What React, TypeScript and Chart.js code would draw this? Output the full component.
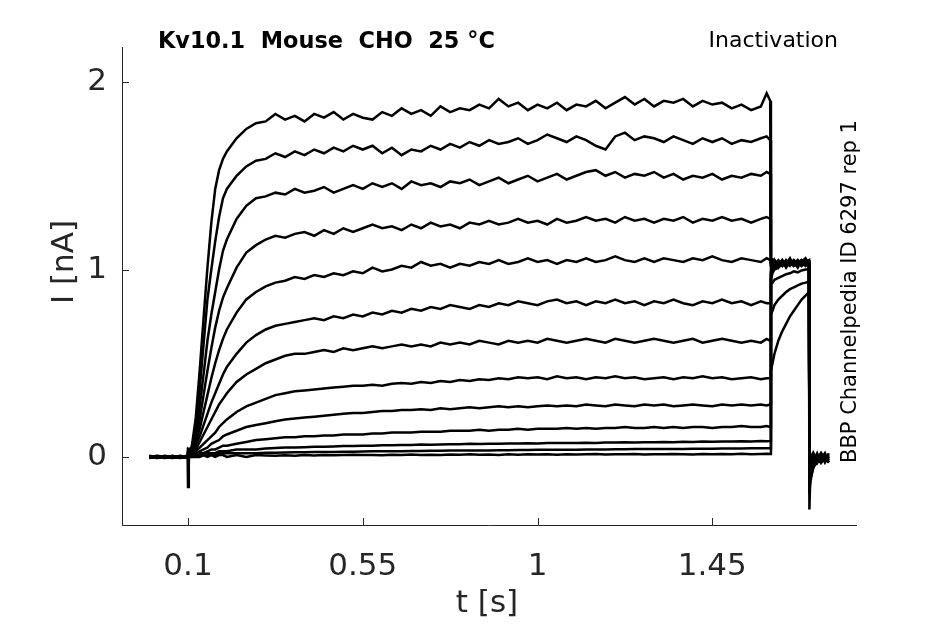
import { useEffect, useRef } from "react"
import { Chart, registerables } from "chart.js"

Chart.register(...registerables)

// time base (s), shared by every sweep
const time = [
  0, 0.02, 0.04, 0.06, 0.08, 0.099,
  0.1, 0.102, 0.11, 0.12, 0.13, 0.14, 0.15, 0.16, 0.17, 0.18, 0.19, 0.2, 0.225, 0.25, 0.275,
  0.3, 0.325, 0.35, 0.375, 0.4, 0.425, 0.45, 0.475, 0.5, 0.525,
  0.55, 0.575, 0.6, 0.625, 0.65, 0.675, 0.7, 0.725, 0.75, 0.775,
  0.8, 0.825, 0.85, 0.875, 0.9, 0.925, 0.95, 0.975, 1, 1.025,
  1.05, 1.075, 1.1, 1.125, 1.15, 1.175, 1.2, 1.225, 1.25, 1.275,
  1.3, 1.325, 1.35, 1.375, 1.4, 1.425, 1.45, 1.475, 1.5, 1.525,
  1.55, 1.575, 1.59, 1.599,
  1.601, 1.605, 1.61, 1.62, 1.63, 1.64, 1.65, 1.66, 1.67, 1.68, 1.69, 1.699,
  1.7, 1.702, 1.71, 1.72, 1.73, 1.74, 1.75,
]

// current sweeps (nA), largest first
const sweep1 = [
  0.004, -0.006, 0.003, -0.004, 0.005, 0.0,
  0.05, 0.02, 0.06, 0.21, 0.46, 0.74, 1.01, 1.25, 1.43, 1.53, 1.59, 1.63, 1.7, 1.75, 1.78,
  1.79, 1.83, 1.8, 1.82, 1.79, 1.83, 1.81, 1.84, 1.8, 1.83,
  1.81, 1.8, 1.84, 1.82, 1.86, 1.83, 1.85, 1.82, 1.87, 1.84,
  1.86, 1.85, 1.88, 1.86, 1.91, 1.87, 1.89, 1.85, 1.88, 1.86,
  1.89, 1.85, 1.88, 1.87, 1.9, 1.86, 1.89, 1.92, 1.88, 1.91,
  1.87, 1.9, 1.89, 1.91, 1.87, 1.9, 1.88, 1.89, 1.86, 1.88,
  1.85, 1.87, 1.94, 1.9,
  1.06, 1.02, 1.05, 1.01, 1.04, 1.03, 1.06, 1.02, 1.04, 1.05, 1.03, 1.04,
  -0.02, -0.01, 0.02, -0.03, 0.01, -0.02, 0.0,
]
const sweep2 = [
  -0.003, 0.005, -0.005, 0.004, -0.002, 0.003,
  0.03, 0.02, 0.05, 0.16, 0.36, 0.6, 0.84, 1.0, 1.15, 1.28, 1.38, 1.43, 1.5, 1.55, 1.58,
  1.59, 1.62, 1.6, 1.63, 1.61, 1.64, 1.62, 1.65, 1.63, 1.66,
  1.64, 1.66, 1.62, 1.65, 1.61, 1.64, 1.63, 1.66, 1.64, 1.67,
  1.65, 1.68, 1.66, 1.69, 1.67, 1.68, 1.7, 1.67, 1.69, 1.72,
  1.7, 1.68, 1.71, 1.69, 1.66, 1.64, 1.71, 1.73, 1.69, 1.71,
  1.7, 1.68, 1.71, 1.69, 1.67, 1.7, 1.68, 1.7, 1.67, 1.69,
  1.68, 1.7, 1.71, 1.69,
  1.04, 1.05, 1.01, 1.04, 1.02, 1.05, 1.03, 1.04, 1.01, 1.05, 1.04, 1.02,
  -0.03, 0.01, -0.02, 0.02, -0.03, 0.0, -0.01,
]
const sweep3 = [
  0.006, -0.002, 0.004, -0.006, 0.002, -0.003,
  0.02, 0.02, 0.04, 0.12, 0.27, 0.44, 0.62, 0.76, 0.88, 1.0, 1.1, 1.16, 1.27, 1.34, 1.38,
  1.39, 1.41, 1.4, 1.43, 1.41, 1.42, 1.44, 1.41, 1.43, 1.45,
  1.43, 1.46, 1.44, 1.46, 1.43, 1.47, 1.45, 1.46, 1.44, 1.47,
  1.46, 1.48, 1.45, 1.47, 1.49, 1.46, 1.48, 1.5, 1.47, 1.49,
  1.51, 1.48, 1.5, 1.52, 1.53, 1.5, 1.52, 1.49, 1.51, 1.5,
  1.52, 1.49, 1.51, 1.48, 1.5, 1.49, 1.51, 1.48, 1.5, 1.49,
  1.51, 1.5, 1.52, 1.51,
  1.05, 1.03, 1.04, 1.02, 1.05, 1.01, 1.04, 1.03, 1.05, 1.02, 1.04, 1.05,
  -0.01, -0.03, 0.01, -0.02, 0.02, -0.01, -0.02,
]
const sweep4 = [
  -0.005, 0.003, -0.001, 0.005, -0.004, 0.002,
  0.02, 0.01, 0.03, 0.1, 0.2, 0.33, 0.46, 0.58, 0.69, 0.78, 0.85, 0.9, 1.01, 1.09, 1.13,
  1.16, 1.18, 1.17, 1.19, 1.2, 1.18, 1.21, 1.19, 1.22, 1.2,
  1.22, 1.24, 1.22, 1.23, 1.21, 1.24, 1.22, 1.25, 1.23, 1.24,
  1.22, 1.25, 1.24, 1.26, 1.24, 1.25, 1.27, 1.25, 1.26, 1.24,
  1.27, 1.25, 1.26, 1.28, 1.26, 1.27, 1.25, 1.28, 1.26, 1.27,
  1.25, 1.27, 1.26, 1.28, 1.25, 1.27, 1.26, 1.28, 1.26, 1.27,
  1.25, 1.27, 1.28, 1.27,
  1.03, 1.04, 1.02, 1.05, 1.03, 1.04, 1.02, 1.05, 1.03, 1.04, 1.06, 1.03,
  -0.04, 0.0, -0.03, 0.01, -0.01, 0.02, -0.03,
]
const sweep5 = [
  0.002, -0.005, 0.006, -0.002, 0.003, -0.004,
  0.02, 0.01, 0.03, 0.08, 0.15, 0.24, 0.33, 0.42, 0.5, 0.57, 0.63, 0.68, 0.77, 0.84, 0.88,
  0.91, 0.93, 0.94, 0.96, 0.95, 0.97, 0.96, 0.98, 0.97, 0.99,
  0.98, 1.01, 0.99, 1.0, 1.02, 1.01, 1.04, 1.02, 1.03, 1.01,
  1.03, 1.02, 1.04, 1.03, 1.05, 1.03, 1.04, 1.06, 1.04, 1.05,
  1.03, 1.05, 1.04, 1.06, 1.04, 1.05, 1.07, 1.05, 1.04, 1.06,
  1.04, 1.06, 1.05, 1.04, 1.06, 1.05, 1.07, 1.05, 1.04, 1.06,
  1.05, 1.04, 1.06, 1.05,
  1.02, 1.03, 1.05, 1.03, 1.04, 1.02, 1.05, 1.04, 1.02, 1.04, 1.03, 1.04,
  -0.02, -0.04, 0.0, -0.02, 0.01, -0.03, 0.01,
]
const sweep6 = [
  -0.004, 0.002, -0.006, 0.003, 0.0, 0.005,
  0.01, 0.01, 0.02, 0.06, 0.11, 0.17, 0.23, 0.29, 0.34, 0.39, 0.44, 0.48, 0.55, 0.61, 0.65,
  0.68, 0.7, 0.71, 0.72, 0.73, 0.74, 0.73, 0.75, 0.74, 0.76,
  0.75, 0.77, 0.76, 0.78, 0.77, 0.79, 0.78, 0.8, 0.79, 0.81,
  0.8, 0.79, 0.81, 0.8, 0.82, 0.81, 0.83, 0.82, 0.81, 0.83,
  0.84, 0.82, 0.83, 0.81, 0.83, 0.82, 0.84, 0.82, 0.83, 0.81,
  0.83, 0.82, 0.84, 0.82, 0.81, 0.83, 0.82, 0.84, 0.82, 0.83,
  0.81, 0.83, 0.82, 0.82,
  1.0, 1.02, 1.03, 1.04, 1.02, 1.05, 1.03, 1.02, 1.04, 1.03, 1.05, 1.02,
  -0.05, -0.02, 0.01, -0.01, -0.03, 0.0, -0.02,
]
const sweep7 = [
  0.003, 0.0, -0.004, 0.006, -0.005, 0.001,
  0.01, 0.01, 0.02, 0.04, 0.08, 0.12, 0.16, 0.2, 0.24, 0.28, 0.31, 0.34, 0.4, 0.44, 0.47,
  0.5, 0.52, 0.54, 0.55, 0.55, 0.56, 0.57, 0.56, 0.58, 0.57,
  0.58, 0.59, 0.58, 0.59, 0.6, 0.59, 0.6, 0.59, 0.61, 0.6,
  0.61, 0.6, 0.62, 0.61, 0.6, 0.62, 0.61, 0.62, 0.61, 0.63,
  0.62, 0.61, 0.62, 0.63, 0.62, 0.61, 0.63, 0.62, 0.61, 0.62,
  0.63, 0.62, 0.61, 0.62, 0.63, 0.61, 0.62, 0.63, 0.62, 0.61,
  0.62, 0.61, 0.63, 0.62,
  0.99, 1.01, 1.02, 1.03, 1.05, 1.02, 1.04, 1.03, 1.05, 1.02, 1.03, 1.04,
  -0.03, 0.02, -0.02, 0.0, -0.02, 0.01, -0.01,
]
const sweep8 = [
  -0.002, 0.006, 0.001, -0.005, 0.004, -0.001,
  0.01, 0.01, 0.02, 0.03, 0.05, 0.07, 0.09, 0.11, 0.13, 0.16, 0.18, 0.2, 0.24, 0.27, 0.29,
  0.31, 0.33, 0.34, 0.35, 0.355, 0.36, 0.365, 0.37, 0.375, 0.38,
  0.38, 0.385, 0.38, 0.39, 0.395, 0.39, 0.4, 0.395, 0.405, 0.4,
  0.41, 0.405, 0.415, 0.41, 0.42, 0.415, 0.425, 0.42, 0.425, 0.415,
  0.43, 0.42, 0.425, 0.415, 0.425, 0.42, 0.43, 0.42, 0.425, 0.415,
  0.42, 0.425, 0.415, 0.425, 0.42, 0.43, 0.42, 0.425, 0.415, 0.42,
  0.425, 0.415, 0.42, 0.42,
  0.98, 1.0, 1.02, 1.04, 1.02, 1.03, 1.05, 1.02, 1.03, 1.04, 1.02, 1.03,
  -0.06, -0.01, -0.03, 0.01, 0.0, -0.02, 0.02,
]
const sweep9 = [
  0.005, -0.003, 0.002, 0.001, -0.006, 0.004,
  0.01, 0.01, 0.01, 0.02, 0.03, 0.04, 0.05, 0.07, 0.08, 0.09, 0.11, 0.12, 0.14, 0.16, 0.17,
  0.18, 0.19, 0.2, 0.205, 0.21, 0.215, 0.22, 0.225, 0.23, 0.235,
  0.235, 0.24, 0.245, 0.245, 0.25, 0.25, 0.255, 0.25, 0.26, 0.255,
  0.26, 0.265, 0.26, 0.265, 0.27, 0.265, 0.27, 0.265, 0.27, 0.275,
  0.27, 0.275, 0.27, 0.28, 0.275, 0.27, 0.28, 0.275, 0.27, 0.28,
  0.275, 0.28, 0.27, 0.275, 0.28, 0.275, 0.27, 0.28, 0.275, 0.28,
  0.275, 0.28, 0.275, 0.28,
  0.97, 0.99, 1.01, 1.02, 1.04, 1.02, 1.03, 1.05, 1.03, 1.02, 1.04, 1.03,
  -0.04, -0.03, 0.02, -0.03, 0.01, -0.01, -0.03,
]
const sweep10 = [
  -0.006, 0.001, 0.005, -0.003, 0.006, -0.002,
  0.01, 0.01, 0.01, 0.01, 0.02, 0.02, 0.03, 0.04, 0.04, 0.05, 0.06, 0.06, 0.07, 0.08, 0.09,
  0.095, 0.1, 0.105, 0.105, 0.11, 0.11, 0.115, 0.115, 0.12, 0.12,
  0.12, 0.125, 0.125, 0.13, 0.13, 0.13, 0.135, 0.135, 0.135, 0.14,
  0.14, 0.14, 0.145, 0.14, 0.145, 0.145, 0.15, 0.145, 0.15, 0.15,
  0.15, 0.155, 0.15, 0.155, 0.15, 0.155, 0.155, 0.16, 0.155, 0.155,
  0.16, 0.155, 0.16, 0.155, 0.16, 0.16, 0.155, 0.16, 0.16, 0.165,
  0.16, 0.16, 0.165, 0.16,
  0.95, 0.98, 1.0, 1.01, 1.03, 1.02, 1.04, 1.02, 1.03, 1.05, 1.02, 1.04,
  -0.08, -0.05, -0.01, 0.01, -0.02, 0.01, -0.01,
]
const sweep11 = [
  0.001, -0.004, -0.002, 0.004, 0.001, 0.006,
  0.01, 0.0, 0.01, 0.01, 0.01, 0.01, 0.02, 0.02, 0.02, 0.03, 0.03, 0.03, 0.04, 0.04, 0.04,
  0.045, 0.048, 0.05, 0.05, 0.052, 0.054, 0.055, 0.056, 0.058, 0.058,
  0.06, 0.06, 0.062, 0.062, 0.064, 0.064, 0.066, 0.065, 0.067, 0.068,
  0.068, 0.07, 0.069, 0.071, 0.07, 0.072, 0.072, 0.073, 0.072, 0.074,
  0.074, 0.075, 0.075, 0.076, 0.075, 0.077, 0.077, 0.078, 0.077, 0.079,
  0.079, 0.08, 0.079, 0.081, 0.08, 0.082, 0.081, 0.083, 0.082, 0.084,
  0.083, 0.085, 0.084, 0.085,
  0.92, 0.93, 0.945, 0.955, 0.965, 0.975, 0.98, 0.99, 0.985, 0.995, 1.0, 1.0,
  -0.12, -0.07, -0.03, -0.01, 0.02, -0.02, 0.0,
]
const sweep12 = [
  0.0, 0.004, -0.003, -0.001, -0.003, -0.005,
  0.0, 0.0, 0.0, 0.01, 0.01, 0.01, 0.01, 0.01, 0.01, 0.02, 0.02, 0.02, 0.02, 0.02, 0.02,
  0.022, 0.023, 0.024, 0.025, 0.025, 0.026, 0.027, 0.027, 0.028, 0.028,
  0.029, 0.03, 0.03, 0.031, 0.031, 0.032, 0.032, 0.033, 0.033, 0.034,
  0.034, 0.035, 0.035, 0.035, 0.036, 0.036, 0.037, 0.037, 0.038, 0.038,
  0.038, 0.039, 0.039, 0.04, 0.04, 0.04, 0.041, 0.041, 0.042, 0.042,
  0.042, 0.043, 0.043, 0.043, 0.044, 0.044, 0.044, 0.045, 0.045, 0.045,
  0.046, 0.046, 0.046, 0.046,
  0.76, 0.78, 0.81, 0.84, 0.86, 0.88, 0.895, 0.905, 0.915, 0.925, 0.93, 0.935,
  -0.2, -0.14, -0.05, -0.03, 0.0, -0.01, -0.02,
]
const sweep13 = [
  -0.001, -0.002, 0.003, 0.002, 0.002, 0.001,
  -0.16, 0.01, 0.0, 0.0, 0.0, 0.01, 0.0, 0.01, 0.0, 0.01, 0.01, 0.0, 0.01, 0.0, 0.01,
  0.008, 0.006, 0.009, 0.007, 0.01, 0.008, 0.011, 0.009, 0.01, 0.012,
  0.01, 0.011, 0.009, 0.012, 0.01, 0.013, 0.011, 0.012, 0.01, 0.013,
  0.012, 0.014, 0.012, 0.013, 0.011, 0.014, 0.012, 0.015, 0.013, 0.014,
  0.012, 0.015, 0.013, 0.014, 0.016, 0.013, 0.015, 0.014, 0.016, 0.013,
  0.015, 0.014, 0.016, 0.015, 0.013, 0.016, 0.014, 0.016, 0.015, 0.017,
  0.015, 0.016, 0.017, 0.016,
  0.46, 0.5, 0.55, 0.62, 0.67, 0.71, 0.75, 0.78, 0.81, 0.84, 0.86, 0.88,
  -0.28, -0.12, -0.06, -0.02, -0.03, 0.0, -0.02,
]

const sweeps = [
  sweep1, sweep2, sweep3, sweep4, sweep5, sweep6, sweep7,
  sweep8, sweep9, sweep10, sweep11, sweep12, sweep13,
]

const xTicks = [0.1, 0.55, 1, 1.45]
const yTicks = [0, 1, 2]

const ink = "#262626"
const family = "DejaVu Sans"

// inward tick marks and the free texts around the axes
const decorations = {
  id: "decorations",
  afterDraw(chart: any) {
    const { ctx, chartArea, scales } = chart
    ctx.save()
    ctx.strokeStyle = ink
    ctx.lineWidth = 1
    ctx.beginPath()
    for (const v of xTicks) {
      const px = Math.round(scales.x.getPixelForValue(v)) + 0.5
      ctx.moveTo(px, chartArea.bottom)
      ctx.lineTo(px, chartArea.bottom - 7)
    }
    for (const v of yTicks) {
      const py = Math.round(scales.y.getPixelForValue(v)) + 0.5
      ctx.moveTo(chartArea.left, py)
      ctx.lineTo(chartArea.left + 7, py)
    }
    ctx.stroke()

    ctx.fillStyle = "#000"
    ctx.textBaseline = "alphabetic"
    ctx.font = `bold 22.4px "${family}"`
    ctx.textAlign = "left"
    ctx.fillText("Kv10.1  Mouse  CHO  25 °C", 158, 48)
    ctx.font = `22px "${family}"`
    ctx.textAlign = "right"
    ctx.fillText("Inactivation", 838, 47)

    ctx.save()
    ctx.translate(856, 463)
    ctx.rotate(-Math.PI / 2)
    ctx.textAlign = "left"
    ctx.font = `21px "${family}"`
    ctx.fillText("BBP Channelpedia ID 6297 rep 1", 0, 0)
    ctx.restore()

    ctx.fillStyle = ink
    ctx.font = `31px "${family}"`
    ctx.textAlign = "center"
    ctx.fillText("t [s]", 487, 612)

    ctx.save()
    ctx.translate(73, 262)
    ctx.rotate(-Math.PI / 2)
    ctx.fillText("I [nA]", 0, 0)
    ctx.restore()

    ctx.restore()
  },
}

function TraceChart() {
  const chartRef = useRef<HTMLCanvasElement>(null)
  const chartInstance = useRef<Chart | null>(null)

  useEffect(() => {
    if (!chartRef.current) return
    if (chartInstance.current) chartInstance.current.destroy()

    chartInstance.current = new Chart(chartRef.current, {
      type: "line",
      data: {
        datasets: sweeps.map((sweep, i) => ({
          label: `sweep ${i + 1}`,
          data: time.map((t, j) => ({ x: t, y: sweep[j] })),
          borderColor: "#000000",
          borderWidth: 2.5,
          pointRadius: 0,
          tension: 0,
          fill: false,
        })),
      },
      options: {
        animation: false,
        responsive: true,
        maintainAspectRatio: false,
        layout: { padding: { top: 47, right: 89, left: 0, bottom: 0 } },
        scales: {
          x: {
            type: "linear",
            min: -0.07,
            max: 1.82,
            afterBuildTicks: (scale: any) => {
              scale.ticks = xTicks.map((v) => ({ value: v }))
            },
            afterFit: (scale: any) => {
              scale.height = 99
            },
            grid: { display: false, drawTicks: false },
            border: { display: true, color: ink, width: 1 },
            ticks: {
              color: ink,
              padding: 23,
              maxRotation: 0,
              font: { family, size: 31 },
              callback: (v: any) => String(v),
            },
          },
          y: {
            type: "linear",
            min: -0.363,
            max: 2.187,
            afterBuildTicks: (scale: any) => {
              scale.ticks = yTicks.map((v) => ({ value: v }))
            },
            afterFit: (scale: any) => {
              scale.width = 122
            },
            grid: { display: false, drawTicks: false },
            border: { display: true, color: ink, width: 1 },
            ticks: {
              color: ink,
              padding: 15,
              font: { family, size: 31 },
              callback: (v: any) => String(v),
            },
          },
        },
        plugins: {
          legend: { display: false },
          tooltip: { enabled: false },
        },
      },
      plugins: [decorations],
    })

    return () => {
      if (chartInstance.current) {
        chartInstance.current.destroy()
        chartInstance.current = null
      }
    }
  }, [])

  return <canvas ref={chartRef} />
}

export default function App() {
  return (
    <div style={{ position: "absolute", left: 0, top: 0, width: 945, height: 624, background: "#fff" }}>
      <TraceChart />
    </div>
  )
}
